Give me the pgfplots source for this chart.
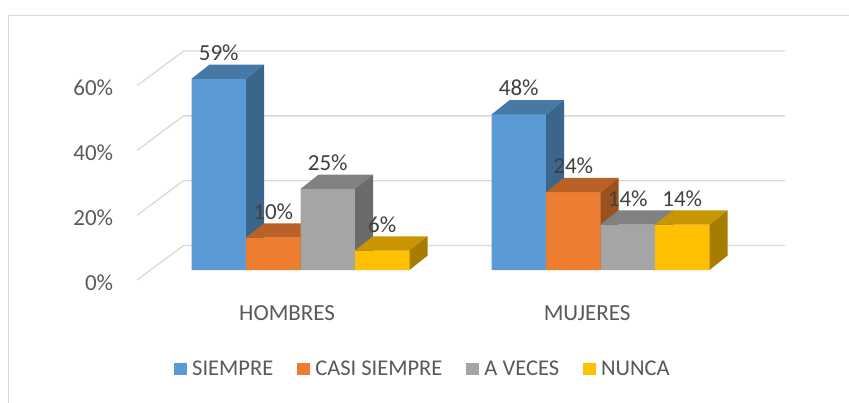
\documentclass[border=0pt]{standalone}
\usepackage{pgfplots}
\usepackage{pgfplotstable}
\pgfplotsset{compat=1.18}
\usepackage{fontspec}
\setmainfont{Carlito}
\definecolor{cS}{HTML}{5B9BD5}
\definecolor{cC}{HTML}{ED7D31}
\definecolor{cA}{HTML}{A5A5A5}
\definecolor{cN}{HTML}{FFC000}
\definecolor{txt}{HTML}{595959}
\definecolor{txtd}{HTML}{404040}
\definecolor{gridc}{HTML}{D9D9D9}
\newcommand\lbl{\fontsize{23}{27}\selectfont}
% 3D bar (front, top and side faces) and its value label, drawn as a plot mark at the bar top
\newcommand\defface[3]{%
  \pgfdeclareplotmark{face#1}{%
    \pgfpathrectangle{\pgfpoint{#2-27.25pt}{-\barval*3.24pt}}{\pgfpoint{54.5pt}{\barval*3.24pt}}%
    \pgfsetfillcolor{#3}%
    \pgfusepath{fill}%
    \pgfpathmoveto{\pgfpoint{#2-27.25pt}{0pt}}%
    \pgfpathlineto{\pgfpoint{#2-9.25pt}{14.3pt}}%
    \pgfpathlineto{\pgfpoint{#2+45.25pt}{14.3pt}}%
    \pgfpathlineto{\pgfpoint{#2+27.25pt}{0pt}}%
    \pgfpathclose
    \pgfsetfillcolor{#3!78!black}%
    \pgfusepath{fill}%
    \pgfpathmoveto{\pgfpoint{#2+27.25pt}{0pt}}%
    \pgfpathlineto{\pgfpoint{#2+45.25pt}{14.3pt}}%
    \pgfpathlineto{\pgfpoint{#2+45.25pt}{14.3pt-\barval*3.24pt}}%
    \pgfpathlineto{\pgfpoint{#2+27.25pt}{-\barval*3.24pt}}%
    \pgfpathclose
    \pgfsetfillcolor{#3!65!black}%
    \pgfusepath{fill}%
    \pgftext[base,at={\pgfpoint{#2}{18.5pt}}]{\lbl\color{txtd}\pgfmathprintnumber[fixed,precision=0,assume math mode=true]{\barval}\%}%
  }%
}
\defface{S}{-81.75pt}{cS}
\defface{C}{-27.25pt}{cC}
\defface{A}{27.25pt}{cA}
\defface{N}{81.75pt}{cN}
\pgfplotstableread{
x S C A N
0 59 10 25 6
1 48 24 14 14
}\datatab
\pgfplotsset{
  front/.style 2 args={ybar, bar width=54.5pt, bar shift=#1, fill=#2, draw=none},
  face3d/.style={
    only marks, mark=face#1, forget plot,
    visualization depends on={rawy \as \barval},
  },
}
\begin{document}
\begin{tikzpicture}
\path[use as bounding box] (0,0) rectangle (849pt,402pt);
\draw[gridc, line width=1.2pt] (8.3pt,-10pt) -- (8.3pt,386.7pt) -- (870pt,386.7pt);
\begin{axis}[
  at={(150.5pt,132pt)}, anchor=south west,
  x=300pt, y=3.24pt,
  xmin=-0.5, xmax=1.5, ymin=0, ymax=60,
  clip=false, clip mode=individual,
  axis line style={draw=none}, major tick length=0pt,
  xtick={0,1}, xticklabels={HOMBRES,MUJERES},
  xticklabel style={anchor=base, inner sep=0pt, xshift=-13.4pt, yshift=-50pt, font=\lbl, text=txt},
  ytick={0,20,40,60}, yticklabels={0\%,20\%,40\%,60\%},
  yticklabel style={anchor=base east, inner sep=0pt, xshift=-37.2pt, yshift=-20.3pt, font=\lbl, text=txt},
  legend columns=4,
  legend image code/.code={\fill[#1,draw=none] (0pt,-6.25pt) rectangle (12.5pt,6.25pt);},
  legend style={at={(0.0392,-0.509)}, anchor=west, draw=none, inner sep=0pt,
    font=\fontsize{22.5}{27}\selectfont, text=txt,
    nodes={inner sep=0pt}, cells={anchor=west},
    /tikz/every odd column/.append style={column sep=5.5pt},
    /tikz/every even column/.append style={column sep=24pt}},
]
\pgfplotsinvokeforeach{0,20,40,60}{
  \draw[gridc, line width=1.3pt] ([xshift=-13.4pt,yshift=-10pt]axis cs:-0.5,#1) -- ([xshift=33pt,yshift=24.5pt]axis cs:-0.5,#1) -- ([xshift=34.5pt,yshift=24.5pt]axis cs:1.5,#1);
}
\addplot[front={-81.75pt}{cS}] table[x=x,y=S]{\datatab};
\addlegendentry{SIEMPRE}
\addplot[face3d=S] table[x=x,y=S]{\datatab};
\addplot[front={-27.25pt}{cC}] table[x=x,y=C]{\datatab};
\addlegendentry{CASI SIEMPRE}
\addplot[face3d=C] table[x=x,y=C]{\datatab};
\addplot[front={27.25pt}{cA}] table[x=x,y=A]{\datatab};
\addlegendentry{A VECES}
\addplot[face3d=A] table[x=x,y=A]{\datatab};
\addplot[front={81.75pt}{cN}] table[x=x,y=N]{\datatab};
\addlegendentry{NUNCA}
\addplot[face3d=N] table[x=x,y=N]{\datatab};
\end{axis}
\end{tikzpicture}
\end{document}
